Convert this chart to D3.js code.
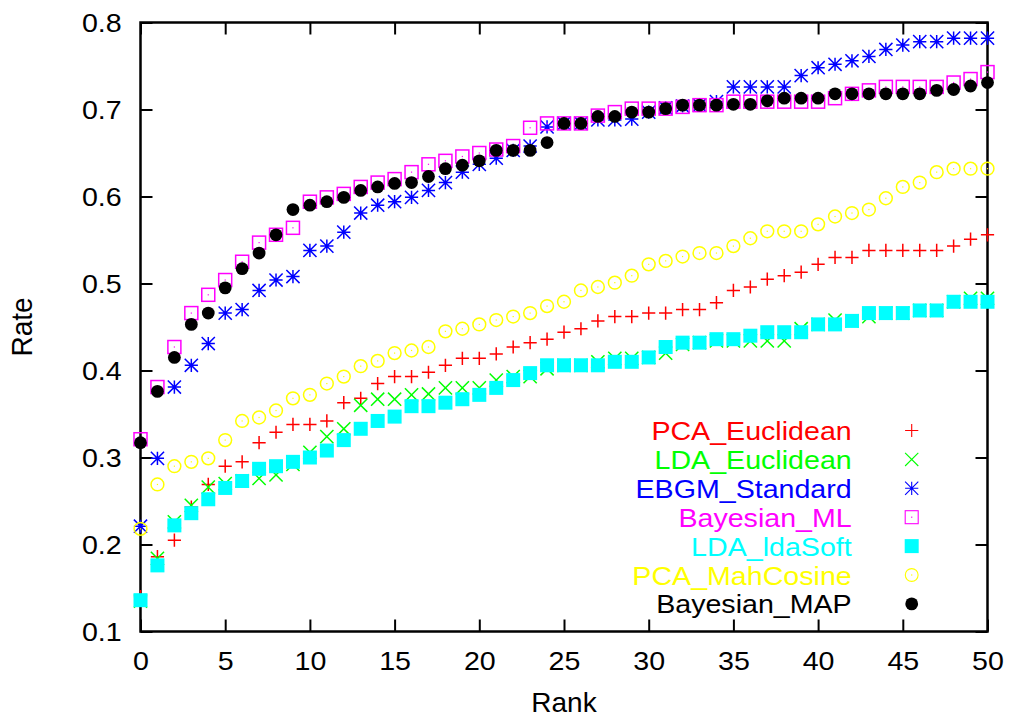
<!DOCTYPE html>
<html><head><meta charset="utf-8">
<script src="https://cdn.jsdelivr.net/npm/d3@7"></script>
<style>body{margin:0;background:#fff}svg{display:block}</style>
</head><body>
<svg id="chart" width="1011" height="721"></svg>
<script>
const ranks = [0,1,2,3,4,5,6,7,8,9,10,11,12,13,14,15,16,17,18,19,20,21,22,23,24,25,26,27,28,29,30,31,32,33,34,35,36,37,38,39,40,41,42,43,44,45,46,47,48,49,50];

const pcaEuclidean = [0.140,0.186,0.205,0.243,0.269,0.290,0.295,0.317,0.329,0.338,0.338,0.342,0.363,0.368,0.385,0.393,0.393,0.398,0.406,0.414,0.414,0.419,0.427,0.432,0.436,0.444,0.448,0.457,0.462,0.462,0.466,0.466,0.470,0.470,0.478,0.492,0.496,0.505,0.509,0.513,0.522,0.530,0.530,0.538,0.538,0.538,0.538,0.538,0.543,0.551,0.556];
const ldaEuclidean = [0.135,0.184,0.226,0.245,0.266,0.270,0.273,0.276,0.280,0.292,0.306,0.324,0.333,0.360,0.367,0.367,0.372,0.373,0.380,0.380,0.380,0.389,0.393,0.393,0.402,0.406,0.406,0.410,0.414,0.414,0.415,0.420,0.430,0.432,0.434,0.434,0.434,0.434,0.434,0.448,0.453,0.458,0.457,0.462,0.466,0.466,0.469,0.469,0.479,0.483,0.483];
const ebgmStandard = [0.221,0.299,0.381,0.406,0.431,0.466,0.470,0.492,0.504,0.508,0.538,0.543,0.559,0.581,0.590,0.594,0.599,0.607,0.616,0.628,0.637,0.644,0.653,0.658,0.680,0.684,0.684,0.688,0.688,0.689,0.697,0.702,0.704,0.705,0.709,0.726,0.726,0.726,0.726,0.739,0.748,0.752,0.756,0.761,0.769,0.774,0.778,0.778,0.782,0.782,0.782];
const bayesianML = [0.321,0.381,0.427,0.466,0.487,0.504,0.525,0.547,0.556,0.564,0.594,0.599,0.603,0.611,0.616,0.620,0.628,0.637,0.641,0.646,0.650,0.654,0.658,0.679,0.684,0.684,0.684,0.693,0.697,0.701,0.701,0.701,0.703,0.705,0.705,0.709,0.709,0.709,0.709,0.709,0.709,0.713,0.718,0.722,0.726,0.726,0.726,0.726,0.731,0.735,0.743];
const ldaLdaSoft = [0.136,0.176,0.222,0.236,0.252,0.265,0.273,0.287,0.290,0.295,0.300,0.308,0.320,0.333,0.342,0.347,0.359,0.359,0.363,0.367,0.372,0.380,0.389,0.397,0.406,0.406,0.406,0.406,0.410,0.410,0.415,0.427,0.432,0.432,0.436,0.436,0.440,0.444,0.444,0.444,0.453,0.453,0.457,0.466,0.466,0.466,0.469,0.469,0.479,0.479,0.479];
const pcaMahCosine = [0.218,0.269,0.290,0.295,0.299,0.320,0.342,0.346,0.354,0.368,0.372,0.385,0.393,0.405,0.411,0.420,0.423,0.427,0.445,0.448,0.453,0.458,0.462,0.466,0.474,0.479,0.492,0.496,0.501,0.509,0.522,0.526,0.531,0.535,0.535,0.543,0.552,0.560,0.560,0.560,0.568,0.577,0.581,0.585,0.598,0.611,0.616,0.628,0.632,0.632,0.632];
const bayesianMAP = [0.317,0.376,0.415,0.453,0.466,0.495,0.517,0.535,0.556,0.585,0.590,0.594,0.599,0.607,0.611,0.615,0.616,0.623,0.632,0.636,0.641,0.653,0.653,0.653,0.662,0.684,0.684,0.692,0.692,0.697,0.697,0.701,0.705,0.705,0.705,0.706,0.706,0.710,0.713,0.713,0.713,0.718,0.718,0.718,0.718,0.718,0.718,0.722,0.723,0.727,0.731];

const seriesNames = ["PCA_Euclidean","LDA_Euclidean","EBGM_Standard","Bayesian_ML","LDA_ldaSoft","PCA_MahCosine","Bayesian_MAP"];
const seriesValues = [pcaEuclidean, ldaEuclidean, ebgmStandard, bayesianML, ldaLdaSoft, pcaMahCosine, bayesianMAP];
const seriesColors = ["#ff0000","#00ff00","#0000ff","#ff00ff","#00ffff","#ffff00","#000000"];
const seriesMarkers = ["plus","cross","star","square","fsquare","circle","fcircle"];

const xTicks = [0,5,10,15,20,25,30,35,40,45,50];
const yTicks = [0.1,0.2,0.3,0.4,0.5,0.6,0.7,0.8];
const xTitle = "Rank";
const yTitle = "Rate";

const svg = d3.select("#chart");
const L = 140.5, R = 987.5, T = 22.5, B = 631.5;
const x = d3.scaleLinear().domain([0,50]).range([L,R]);
const y = d3.scaleLinear().domain([0.1,0.8]).range([B,T]);
const FONT = "'Liberation Sans', Arial, Helvetica, sans-serif";
const TSX = 1.1;

svg.append("rect").attr("width",1011).attr("height",721).attr("fill","#fff");

// axes
function styleAxis(g){
  g.select(".domain").remove();
  g.selectAll(".tick line").attr("stroke","#000").attr("stroke-width",2);
  g.selectAll("text").attr("font-family",FONT).attr("font-size",26).attr("fill","#000");
}
const gB = svg.append("g").attr("transform",`translate(0,${B})`)
  .call(d3.axisBottom(x).tickValues(xTicks).tickSizeInner(-12).tickSizeOuter(0).tickPadding(20).tickFormat(d3.format("d")));
styleAxis(gB);
gB.selectAll("text").attr("dy","0.71em").attr("transform",`scale(${TSX},1)`);

const gT = svg.append("g").attr("transform",`translate(0,${T})`)
  .call(d3.axisTop(x).tickValues(xTicks).tickSizeInner(-12).tickSizeOuter(0).tickFormat(""));
styleAxis(gT);

const gL = svg.append("g").attr("transform",`translate(${L},0)`)
  .call(d3.axisLeft(y).tickValues(yTicks).tickSizeInner(-12).tickSizeOuter(0).tickPadding(17).tickFormat(d3.format(".1f")));
styleAxis(gL);
gL.selectAll("text").attr("x",-17.1).attr("dy","0.365em").attr("transform",`scale(${TSX},1)`);

const gR = svg.append("g").attr("transform",`translate(${R},0)`)
  .call(d3.axisRight(y).tickValues(yTicks).tickSizeInner(-12).tickSizeOuter(0).tickFormat(""));
styleAxis(gR);

svg.append("rect").attr("x",L).attr("y",T).attr("width",R-L).attr("height",B-T)
  .attr("fill","none").attr("stroke","#000").attr("stroke-width",2.5);

// titles
svg.append("text").attr("transform",`translate(${(L+R)/2},712)`)
  .attr("text-anchor","middle").attr("font-family",FONT).attr("font-size",28).text(xTitle);
svg.append("text").attr("transform",`translate(32,${(T+B)/2}) rotate(-90) scale(1,1.08)`)
  .attr("text-anchor","middle").attr("font-family",FONT).attr("font-size",28).text(yTitle);

// markers
function marker(g, type, cx, cy, color, sw){
  const s = 6.6;
  if(type==="plus"){
    g.append("path").attr("d",`M${cx-s},${cy}H${cx+s}M${cx},${cy-s}V${cy+s}`).attr("stroke",color).attr("stroke-width",sw).attr("fill","none");
  } else if(type==="cross"){
    g.append("path").attr("d",`M${cx-s},${cy-s}L${cx+s},${cy+s}M${cx-s},${cy+s}L${cx+s},${cy-s}`).attr("stroke",color).attr("stroke-width",sw).attr("fill","none");
  } else if(type==="star"){
    g.append("path").attr("d",`M${cx-s},${cy}H${cx+s}M${cx},${cy-s}V${cy+s}M${cx-s},${cy-s}L${cx+s},${cy+s}M${cx-s},${cy+s}L${cx+s},${cy-s}`).attr("stroke",color).attr("stroke-width",sw).attr("fill","none");
  } else if(type==="square"){
    g.append("rect").attr("x",cx-6.5).attr("y",cy-6.5).attr("width",13).attr("height",13).attr("stroke",color).attr("stroke-width",sw).attr("fill","none");
    g.append("rect").attr("x",cx-0.6).attr("y",cy-0.6).attr("width",1.2).attr("height",1.2).attr("fill",color);
  } else if(type==="fsquare"){
    g.append("rect").attr("x",cx-7).attr("y",cy-7).attr("width",14).attr("height",14).attr("fill",color);
  } else if(type==="circle"){
    g.append("circle").attr("cx",cx).attr("cy",cy).attr("r",6.4).attr("stroke",color).attr("stroke-width",sw).attr("fill","none");
    g.append("rect").attr("x",cx-0.6).attr("y",cy-0.6).attr("width",1.2).attr("height",1.2).attr("fill",color);
  } else if(type==="fcircle"){
    g.append("circle").attr("cx",cx).attr("cy",cy).attr("r",6.4).attr("fill",color);
  }
}

const gPts = svg.append("g");
seriesValues.forEach((vals, si) => {
  const g = gPts.append("g").attr("class","series-"+si);
  ranks.forEach((r, i) => {
    marker(g, seriesMarkers[si], x(r), y(vals[i]), seriesColors[si], 1.5);
  });
});

// legend
const gLeg = svg.append("g");
seriesNames.forEach((name, i) => {
  const yy = 430.5 + 28.9*i;
  gLeg.append("text").attr("transform",`translate(851.7,${yy+9.5}) scale(${TSX},1)`)
    .attr("text-anchor","end").attr("font-family",FONT).attr("font-size",26)
    .attr("fill",seriesColors[i]).text(name);
  marker(gLeg, seriesMarkers[i], 911.7, yy, seriesColors[i], 1.1);
});
</script>
</body></html>
